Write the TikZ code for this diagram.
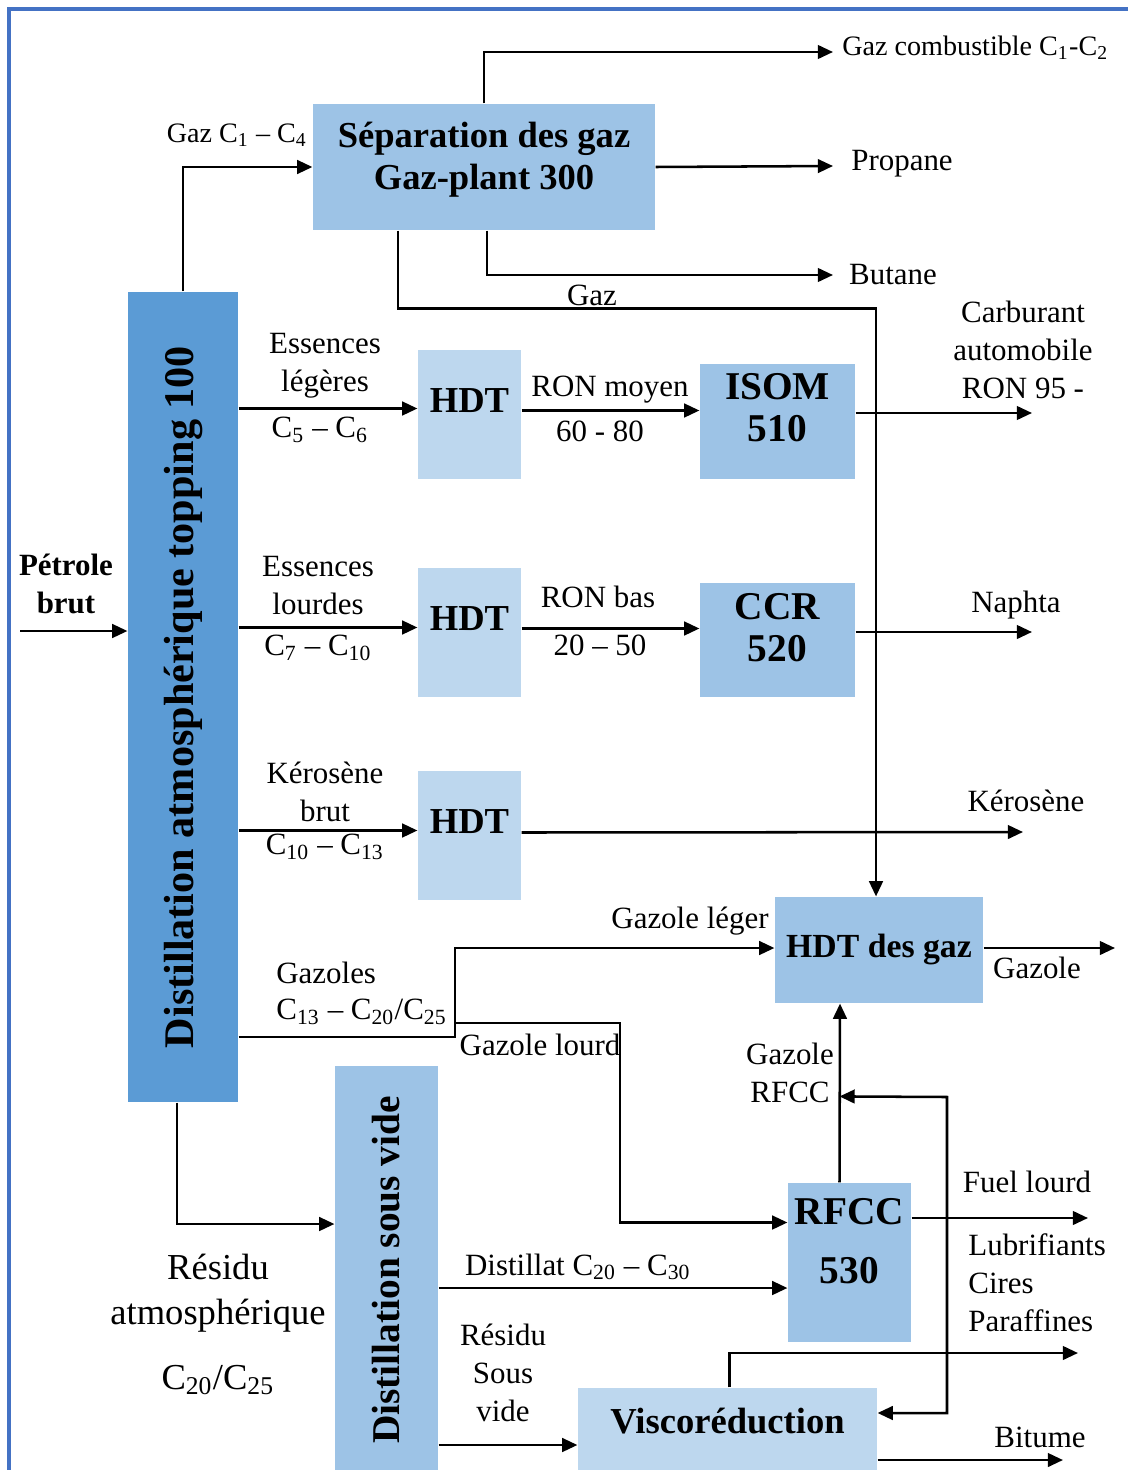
\documentclass[tikz,border=0pt]{standalone}
\usepackage{fontspec}
\setmainfont{Liberation Serif}
\usetikzlibrary{arrows.meta,positioning,calc}
\definecolor{frameblue}{HTML}{4472C4}
\definecolor{darkunit}{HTML}{5B9BD5}
\definecolor{midunit}{HTML}{9DC3E6}
\definecolor{paleunit}{HTML}{BDD7EE}
\newcommand{\Cn}[1]{C\textsubscript{#1}}

\begin{document}
\begin{tikzpicture}[x=0.0125cm, y=-0.0125cm,
  unit/.style={rectangle, fill=#1, inner sep=2pt, align=center, font=\fontsize{13}{16}\selectfont\bfseries},
  lbl/.style={align=center, inner sep=1pt, font=\fontsize{11}{13.5}\selectfont},
  flow/.style={-{Triangle[length=1.9mm, width=1.7mm]}, line width=0.9pt},
  flowboth/.style={{Triangle[length=1.9mm, width=1.7mm]}-{Triangle[length=1.9mm, width=1.7mm]}, line width=0.9pt}
]
  \useasboundingbox (0,0) rectangle (1128,1470);
  \draw[frameblue, line width=1.5pt] (9,9) rectangle (1140,1490);

  % process units
  \node[unit=midunit, minimum width=4.275cm, minimum height=1.575cm, font=\fontsize{13}{15}\selectfont\bfseries] (sepgaz) at (484,167) {Séparation des gaz\\Gaz-plant 300\\[-7pt]\mbox{}};
  \node[unit=darkunit, minimum width=1.375cm, minimum height=10.125cm, font=\fontsize{15}{17}\selectfont\bfseries] (topping) at (183,697) {\rotatebox{90}{Distillation atmosphérique topping 100}};
  \node[unit=paleunit, minimum width=1.2875cm, minimum height=1.6125cm] (hdtA) at (469.5,414.5) {HDT\\[-6pt]\mbox{}};
  \node[unit=midunit, minimum width=1.9375cm, minimum height=1.4375cm, font=\fontsize{14}{15}\selectfont\bfseries] (isom) at (777.5,421.5) {ISOM\\510\\[-5pt]\mbox{}};
  \node[unit=paleunit, minimum width=1.2875cm, minimum height=1.6125cm] (hdtB) at (469.5,632.5) {HDT\\[-6pt]\mbox{}};
  \node[unit=midunit, minimum width=1.9375cm, minimum height=1.425cm, font=\fontsize{14}{15}\selectfont\bfseries] (ccr) at (777.5,640) {CCR\\520\\[-6pt]\mbox{}};
  \node[unit=paleunit, minimum width=1.2875cm, minimum height=1.6125cm] (hdtC) at (469.5,835.5) {HDT\\[-6pt]\mbox{}};
  \node[unit=midunit, minimum width=2.6cm, minimum height=1.325cm, font=\fontsize{12}{15}\selectfont\bfseries] (hdtgaz) at (879,950) {HDT des gaz};
  \node[unit=midunit, minimum width=1.2875cm, minimum height=5.1cm, font=\fontsize{14}{16}\selectfont\bfseries] (sousvide) at (386.5,1270) {\rotatebox{90}{Distillation sous vide}};
  \node[unit=midunit, minimum width=1.5375cm, minimum height=1.9875cm, font=\fontsize{14}{17}\selectfont\bfseries] (rfcc) at (849.5,1262.5) {RFCC\\[4pt]530\\[-2pt]\mbox{}};
  \node[unit=paleunit, minimum width=3.7375cm, minimum height=1.075cm] (visco) at (727.5,1431) {Viscoréduction\\[-9pt]\mbox{}};

  % free ends
  \coordinate (crude) at (20,631);
  \coordinate (combend) at (833,52);
  \coordinate (propend) at (833,166);
  \coordinate (butend) at (833,275);
  \coordinate (essA) at ($(hdtA.west)+(0,-6)$);
  \coordinate (ronA) at ($(hdtA.east)+(0,-4)$);
  \coordinate (fuelend) at (1032,413);
  \coordinate (essB) at ($(hdtB.west)+(0,-5)$);
  \coordinate (ronB) at ($(hdtB.east)+(0,-4)$);
  \coordinate (naphend) at (1032,632);
  \coordinate (essC) at ($(hdtC.west)+(0,-5)$);
  \coordinate (kerstart) at ($(hdtC.east)+(0,-3)$);
  \coordinate (kerend) at (1023,832);
  \coordinate (split) at (455,1037);
  \coordinate (gazend) at (1115,948);
  \coordinate (loop) at (947,1097);
  \coordinate (heavyend) at (1088,1218);
  \coordinate (distout) at ($(sousvide.east)+(0,18)$);
  \coordinate (rsvout) at ($(sousvide.east)+(0,175)$);
  \coordinate (lubeend) at (1078,1353);
  \coordinate (bitend) at (1063,1460);

  % connectors
  \draw[flow] (crude) -- (crude -| topping.west);
  \draw[flow] (topping.north) |- (sepgaz.west);
  \draw[flow] (sepgaz.north) |- (combend);
  \draw[flow] (sepgaz.east) -- (propend);
  \draw[flow] ($(sepgaz.south)+(3,0)$) |- (butend);
  \draw[flow] ($(sepgaz.south)+(-86,0)$) -- ++(0,78) -| ($(hdtgaz.north)+(-3,0)$);
  \draw[flow] (essA -| topping.east) -- (essA);
  \draw[flow] (ronA) -- (ronA -| isom.west);
  \draw[flow] (fuelend -| isom.east) -- (fuelend);
  \draw[flow] (essB -| topping.east) -- (essB);
  \draw[flow] (ronB) -- (ronB -| ccr.west);
  \draw[flow] (naphend -| ccr.east) -- (naphend);
  \draw[flow] (essC -| topping.east) -- (essC);
  \draw[flow] (kerstart) -- (kerend);
  \draw[flow] (topping.east |- split) -- (split) |- ($(hdtgaz.west)+(0,-2)$);
  \draw[flow] ($(split)+(0,-14)$) -- ++(165,0) |- ($(rfcc.west)+(0,-40)$);
  \draw[flow] ($(hdtgaz.east)+(0,-2)$) -- (gazend);
  \draw[flow] ($(rfcc.north)+(-10,0)$) -- ($(hdtgaz.south)+(-39,0)$);
  \draw[flowboth] ($(rfcc.north)+(-10,-86)$) -- (loop) |- ($(visco.east)+(0,-18)$);
  \draw[flow] (heavyend -| rfcc.east) -- (heavyend);
  \draw[flow] ($(topping.south)+(-6,0)$) |- ($(sousvide.west)+(0,-46)$);
  \draw[flow] (distout) -- (distout -| rfcc.west);
  \draw[flow] (rsvout) -- (rsvout -| visco.west);
  \draw[flow] ($(visco.north)+(2,0)$) |- (lubeend);
  \draw[flow] (bitend -| visco.east) -- (bitend);

  % labels
  \node[lbl, font=\fontsize{11}{13.5}\selectfont\bfseries] (crudelbl) at (66,584) {Pétrole\\brut};
  \node[lbl, font=\fontsize{10}{12}\selectfont] (c14lbl) at (237,135) {Gaz \Cn{1} – \Cn{4}};
  \node[lbl, anchor=west, font=\fontsize{10}{12}\selectfont] (comblbl) at (839,48) {Gaz combustible \Cn{1}-\Cn{2}};
  \node[lbl] (proplbl) at (902,164) {Propane};
  \node[lbl] (butlbl) at (893,275) {Butane};
  \node[lbl] (gazlbl) at (592,295) {Gaz};
  \node[lbl] (carblbl) at (1023,350) {Carburant\\automobile\\RON 95 -};
  \node[lbl] (esslegerlbl) at (325,366) {Essences\\légères};
  \node[lbl] (c56lbl) at (320,430) {\Cn{5} – \Cn{6}};
  \node[lbl] (ronmoylbl) at (610,390) {RON moyen};
  \node[lbl] (r6080lbl) at (600,431) {60 - 80};
  \node[lbl] (esslourdlbl) at (318,586) {Essences\\lourdes};
  \node[lbl] (c710lbl) at (318,648) {\Cn{7} – \Cn{10}};
  \node[lbl] (ronbaslbl) at (598,597) {RON bas};
  \node[lbl] (r2050lbl) at (600,645) {20 – 50};
  \node[lbl] (naphlbl) at (1016,605) {Naphta};
  \node[lbl] (kerbrutlbl) at (325,792) {Kérosène\\brut};
  \node[lbl] (c1013lbl) at (325,847) {\Cn{10} – \Cn{13}};
  \node[lbl] (kerlbl) at (1026,801) {Kérosène};
  \node[lbl] (legerlbl) at (690,921) {Gazole léger};
  \node[lbl, anchor=west, align=left, font=\fontsize{11}{13}\selectfont] (gazoleslbl) at (273,993) {Gazoles\\\Cn{13} – \Cn{20}/\Cn{25}};
  \node[lbl] (lourdlbl) at (540,1045) {Gazole lourd};
  \node[lbl] (gazolelbl) at (1037,968) {Gazole};
  \node[lbl] (rfccgazlbl) at (790,1073) {Gazole\\RFCC};
  \node[lbl] (fuellbl) at (1027,1182) {Fuel lourd};
  \node[lbl, anchor=west, align=left] (lubelbl) at (965,1283) {Lubrifiants\\Cires\\Paraffines};
  \node[lbl, font=\fontsize{13}{16}\selectfont] (residulbl) at (218,1293) {Résidu\\atmosphérique};
  \node[lbl, font=\fontsize{13}{16}\selectfont] (c2025lbl) at (218,1380) {\Cn{20}/\Cn{25}};
  \node[lbl] (distlbl) at (578,1267) {Distillat \Cn{20} – \Cn{30}};
  \node[lbl] (rsvlbl) at (503,1373) {Résidu\\Sous\\vide};
  \node[lbl] (bitlbl) at (1040,1437) {Bitume};
\end{tikzpicture}
\end{document}
